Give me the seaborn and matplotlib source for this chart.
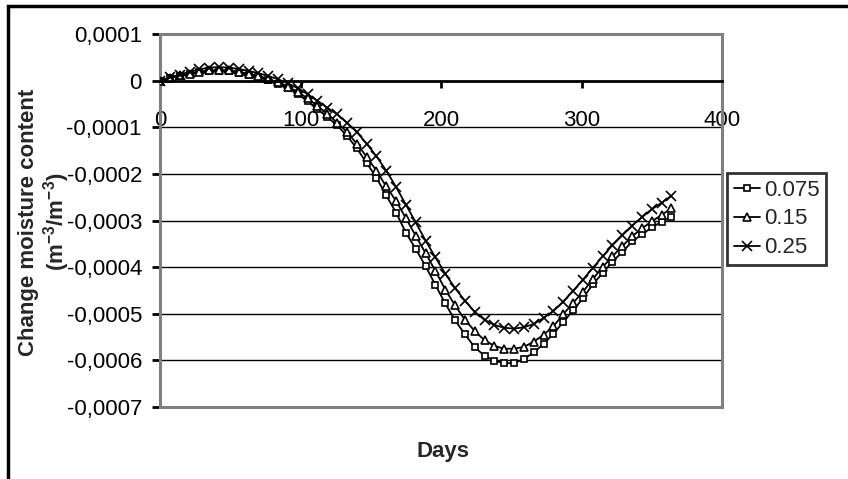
import numpy as np
import pandas as pd
import matplotlib
matplotlib.use("Agg")
import matplotlib.pyplot as plt
from matplotlib.patches import Rectangle
from matplotlib.ticker import FuncFormatter, MultipleLocator
import seaborn as sns

# Weekly simulation output: change in moisture content per depth
days = [0, 7, 14, 21, 28, 35, 42, 49, 56, 63, 70, 77, 84, 91, 98, 105, 112,
        119, 126, 133, 140, 147, 154, 161, 168, 175, 182, 189, 196, 203, 210,
        217, 224, 231, 238, 245, 252, 259, 266, 273, 280, 287, 294, 301, 308,
        315, 322, 329, 336, 343, 350, 357, 364]

# values in units of 1e-5 m-3/m-3
depth_0075 = [0, 0.6, 1.0, 1.4, 1.8, 2.0, 2.1, 2.0, 1.6, 1.2, 0.7, 0.2, -0.7,
              -1.6, -2.8, -4.4, -6.1, -7.8, -9.6, -11.8, -14.5, -17.6, -20.8,
              -24.6, -28.3, -32.6, -36.1, -39.8, -43.8, -47.8, -51.4, -54.4,
              -57.2, -59.0, -60.1, -60.6, -60.6, -59.7, -58.3, -56.5, -54.3,
              -51.8, -49.3, -46.7, -43.7, -41.3, -38.8, -36.8, -34.5, -33.0,
              -31.5, -30.3, -29.3]
depth_015 = [0, 0.6, 1.1, 1.5, 1.9, 2.2, 2.3, 2.2, 1.9, 1.5, 1.0, 0.4, -0.4,
             -1.3, -2.4, -3.8, -5.4, -7.1, -9.0, -11.0, -13.5, -16.3, -19.3,
             -22.7, -25.8, -29.5, -33.3, -37.0, -40.8, -44.8, -48.2, -51.3,
             -53.7, -55.7, -56.9, -57.5, -57.5, -57.1, -56.0, -54.5, -52.7,
             -50.1, -47.7, -45.3, -42.6, -40.0, -37.7, -35.5, -33.4, -31.7,
             -30.2, -28.8, -27.4]
depth_025 = [0, 0.7, 1.3, 1.9, 2.4, 2.8, 2.9, 2.8, 2.5, 2.1, 1.6, 1.0, 0.3,
             -0.6, -1.6, -2.9, -4.3, -5.8, -7.2, -9.0, -11.0, -13.5, -16.2,
             -19.3, -22.8, -26.6, -30.4, -34.3, -37.9, -41.4, -44.5, -47.2,
             -49.6, -51.3, -52.4, -53.0, -53.2, -52.9, -52.2, -50.9, -49.4,
             -47.4, -45.1, -42.7, -40.2, -37.7, -35.3, -33.2, -31.1, -29.3,
             -27.6, -26.2, -24.7]

series_labels = ["0.075", "0.15", "0.25"]
series_values = [depth_0075, depth_015, depth_025]

sns.set_style("white")
plt.rcParams["font.family"] = ["Liberation Sans", "DejaVu Sans"]
plt.rcParams["mathtext.fontset"] = "custom"
plt.rcParams["mathtext.rm"] = "Liberation Sans"
plt.rcParams["mathtext.bf"] = "Liberation Sans:bold"

fig = plt.figure(figsize=(8.48, 4.79), dpi=100)
ax = fig.add_axes([160 / 848, 1 - 407 / 479, 562 / 848, 373 / 479])

styles = [("s", 4.2), ("^", 5.8), ("x", 6.5)]
for label, vals, (mk, ms) in zip(series_labels, series_values, styles):
    df = pd.DataFrame({"Days": days, "value": np.array(vals) * 1e-5})
    sns.lineplot(data=df, x="Days", y="value", ax=ax, color="black",
                 linewidth=1.3, marker=mk, markersize=ms,
                 markerfacecolor="white", markeredgecolor="black",
                 markeredgewidth=1.2, errorbar=None, label=label, zorder=4)

ax.set_xlim(0, 400)
ax.set_ylim(-0.0007, 0.0001)
ax.xaxis.set_major_locator(MultipleLocator(100))
ax.yaxis.set_major_locator(MultipleLocator(0.0001))


def comma_fmt(v, pos):
    if abs(v) < 1e-12:
        return "0"
    return f"{v:.4f}".replace(".", ",")


ax.yaxis.set_major_formatter(FuncFormatter(comma_fmt))
ax.xaxis.set_major_formatter(FuncFormatter(lambda v, p: f"{v:.0f}"))

# Axes: x axis crosses at zero, grey plot-area frame
ax.spines["bottom"].set_position(("data", 0))
for side in ("top", "right"):
    ax.spines[side].set_visible(False)
ax.spines["bottom"].set_linewidth(2)
ax.spines["left"].set_linewidth(2)
ax.spines["bottom"].set_color("black")
ax.spines["left"].set_color("black")
ax.spines["bottom"].set_zorder(5)
ax.add_patch(Rectangle((0, 0), 1, 1, transform=ax.transAxes, fill=False,
                       edgecolor="#808080", linewidth=2.2, zorder=3,
                       clip_on=False))

ax.yaxis.grid(True, color="black", linewidth=1)
ax.xaxis.grid(False)
ax.set_axisbelow(True)

ax.tick_params(axis="y", direction="out", length=6, width=2, pad=7,
               labelsize=16, left=True, colors="black")
ax.tick_params(axis="x", direction="out", length=5, width=2, pad=16,
               labelsize=16, bottom=True, colors="black")

ax.set_xlabel("")
ax.set_ylabel("")
fig.text(443 / 848, 1 - 451 / 479, "Days", ha="center", va="center",
         fontsize=16, fontweight="bold")
fig.text(45 / 848, 1 - 222 / 479,
         "Change moisture content\n(m$^{\\mathbf{-3}}$/m$^{\\mathbf{-3}}$)",
         ha="center", va="center", rotation=90, fontsize=16,
         fontweight="bold", multialignment="center", linespacing=1.1)

leg = ax.legend(loc="center left", bbox_to_anchor=(727 / 848, 1 - 219 / 479),
                bbox_transform=fig.transFigure, frameon=True, fancybox=False,
                fontsize=16, handlelength=1.2, handletextpad=0.15,
                labelspacing=0.35, borderpad=0.3, borderaxespad=0)
leg.get_frame().set_edgecolor("black")
leg.get_frame().set_linewidth(2)
for h in leg.legend_handles:
    h.set_linewidth(1.3)

# outer chart border
fig.patches.append(Rectangle((8 / 848, -0.1), 1.0, (479 - 6) / 479 + 0.1,
                             transform=fig.transFigure, fill=False,
                             edgecolor="black", linewidth=2.5))

fig.savefig("out.png", dpi=100)
